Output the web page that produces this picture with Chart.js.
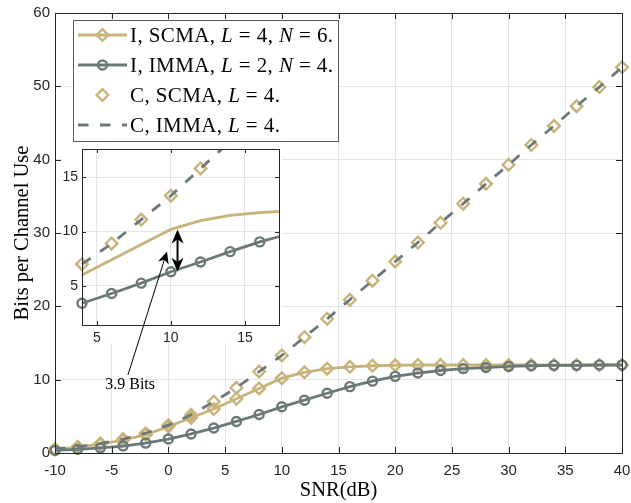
<!DOCTYPE html>
<html><head><meta charset="utf-8">
<script src="https://cdn.jsdelivr.net/npm/chart.js@4.4.1/dist/chart.umd.min.js"></script>
<style>
html,body{margin:0;padding:0;background:#fff;}
#wrap{position:relative;width:631px;height:503px;}
canvas{position:absolute;left:0;top:0;}
</style>
</head><body>
<div id="wrap"><canvas id="main" width="631" height="503"></canvas><canvas id="inset" width="631" height="503"></canvas></div>
<script>
// ---- data ----
const snr   = [-10,-8,-6,-4,-2,0,2,4,6,8,10,12,14,16,18,20,22,24,26,28,30,32,34,36,38,40];
const iScma = [0.5,0.8,1.2,1.75,2.5,3.6,4.8,6.0,7.4,8.8,10.2,11.0,11.5,11.75,11.9,11.95,12.0,12.0,12.0,12.0,12.0,12.0,12.0,12.0,12.0,12.0];
const iImma = [0.35,0.5,0.7,0.95,1.35,1.9,2.6,3.4,4.3,5.25,6.3,7.2,8.15,9.05,9.8,10.45,10.9,11.25,11.5,11.65,11.8,11.9,11.95,11.95,12.0,12.0];
const cScma = [0.55,0.85,1.3,1.9,2.7,3.8,5.2,7.0,8.9,11.1,13.3,15.8,18.3,20.9,23.5,26.1,28.7,31.4,34.0,36.7,39.3,42.0,44.6,47.3,49.9,52.6];
const cImma = [0.55,0.85,1.3,1.9,2.7,3.8,5.2,7.0,8.9,11.1,13.3,15.8,18.3,20.9,23.5,26.1,28.7,31.4,34.0,36.7,39.3,42.0,44.6,47.3,49.9,52.6];
const xTicks = [-10,-5,0,5,10,15,20,25,30,35,40];
const yTicks = [0,10,20,30,40,50,60];
const insetXTicks = [5,10,15];
const insetYTicks = [5,10,15];
const legendTexts = [
  [['I, SCMA, ',0],['L',1],[' = 4, ',0],['N',1],[' = 6.',0]],
  [['I, IMMA, ',0],['L',1],[' = 2, ',0],['N',1],[' = 4.',0]],
  [['C, SCMA, ',0],['L',1],[' = 4.',0]],
  [['C, IMMA, ',0],['L',1],[' = 4.',0]]
];
const gapLabel = '3.9 Bits';
const gapAtSnr = 10;

// ---- styles ----
const GOLD = '#C8B37B', GRAY = '#6A7877', AX = '#262626', GRID = '#e4e4e4';
const DASH = [10.5, 11.5];
const CLEAR = 'rgba(0,0,0,0)';

function pts(ys, lo, hi) {
  return snr.map((x, i) => ({x, y: ys[i]})).filter(p => lo === undefined || (p.x >= lo && p.x <= hi));
}

function drawRich(ctx, x, y, parts, size) {
  parts.forEach(([t, it]) => {
    ctx.font = (it ? 'italic ' : '') + size + 'px "Liberation Serif"';
    ctx.fillText(t, x, y);
    x += ctx.measureText(t).width;
  });
}

function diamond(ctx, x, y, r) {
  ctx.beginPath();
  ctx.moveTo(x, y - r); ctx.lineTo(x + r, y); ctx.lineTo(x, y + r); ctx.lineTo(x - r, y); ctx.closePath();
}

function arrowHead(ctx, x1, y1, x2, y2, len, half) {
  const a = Math.atan2(y2 - y1, x2 - x1);
  ctx.save();
  ctx.translate(x2, y2); ctx.rotate(a);
  ctx.beginPath();
  ctx.moveTo(0, 0); ctx.lineTo(-len, -half); ctx.lineTo(-len * 0.72, 0); ctx.lineTo(-len, half); ctx.closePath();
  ctx.fill();
  ctx.restore();
}

const framePlugin = {
  id: 'frame',
  afterDatasetsDraw(chart, args, o) {
    const {ctx, chartArea: a} = chart;
    const x = chart.scales.x, y = chart.scales.y;
    ctx.save();
    ctx.strokeStyle = o.color; ctx.lineWidth = 1;
    ctx.beginPath();
    x.ticks.forEach(t => {
      const p = Math.round(x.getPixelForValue(t.value)) + 0.5;
      ctx.moveTo(p, a.bottom); ctx.lineTo(p, a.bottom - o.len);
      ctx.moveTo(p, a.top); ctx.lineTo(p, a.top + o.len);
    });
    y.ticks.forEach(t => {
      const p = Math.round(y.getPixelForValue(t.value)) + 0.5;
      ctx.moveTo(a.left, p); ctx.lineTo(a.left + o.len, p);
      ctx.moveTo(a.right, p); ctx.lineTo(a.right - o.len, p);
    });
    ctx.stroke();
    ctx.strokeRect(Math.round(a.left) + 0.5, Math.round(a.top) + 0.5, Math.round(a.right - a.left), Math.round(a.bottom - a.top));
    ctx.restore();
  }
};

const legendPlugin = {
  id: 'mlegend',
  afterDraw(chart, args, o) {
    const ctx = chart.ctx;
    ctx.save();
    ctx.fillStyle = '#fff';
    ctx.fillRect(o.x, o.y, o.w, o.h);
    ctx.strokeStyle = '#5a5a5a'; ctx.lineWidth = 1;
    ctx.strokeRect(o.x + 0.5, o.y + 0.5, o.w, o.h);
    const ds = chart.data.datasets;
    legendTexts.forEach((parts, i) => {
      const d = ds[i];
      const cy = o.y + o.first + i * o.step;
      const x0 = o.x + 5, x1 = o.x + 54, xm = (x0 + x1) / 2;
      if (d.showLine !== false) {
        ctx.strokeStyle = d.borderColor; ctx.lineWidth = d.borderWidth;
        ctx.setLineDash(d.borderDash || []);
        ctx.beginPath(); ctx.moveTo(x0, cy); ctx.lineTo(x1, cy); ctx.stroke();
        ctx.setLineDash([]);
      }
      if (d.pointRadius > 0) {
        ctx.strokeStyle = d.pointBorderColor; ctx.lineWidth = d.pointBorderWidth;
        if (d.pointStyle === 'circle') { ctx.beginPath(); ctx.arc(xm, cy, d.pointRadius, 0, Math.PI * 2); ctx.stroke(); }
        else { diamond(ctx, xm, cy, d.pointRadius); ctx.stroke(); }
      }
      ctx.fillStyle = '#000'; ctx.textBaseline = 'alphabetic';
      ctx.letterSpacing = '0.4px';
      drawRich(ctx, o.x + 57, cy + 7, parts, 21);
    });
    ctx.restore();
  }
};

function tickSetter(arr) { return s => { s.ticks = arr.map(v => ({value: v})); }; }

const mainDatasets = [
  {label: 'I, SCMA', data: pts(iScma), borderColor: GOLD, borderWidth: 2.8, pointStyle: 'rectRot', pointRadius: 5.8, pointBorderWidth: 2.4, pointBorderColor: GOLD, pointBackgroundColor: CLEAR, order: 4, clip: false},
  {label: 'I, IMMA', data: pts(iImma), borderColor: GRAY, borderWidth: 2.8, pointStyle: 'circle', pointRadius: 4.5, pointBorderWidth: 2.4, pointBorderColor: GRAY, pointBackgroundColor: CLEAR, order: 2, clip: false},
  {label: 'C, SCMA', data: pts(cScma), showLine: false, borderColor: GOLD, borderWidth: 0, pointStyle: 'rectRot', pointRadius: 5.8, pointBorderWidth: 2.4, pointBorderColor: GOLD, pointBackgroundColor: CLEAR, order: 3, clip: false},
  {label: 'C, IMMA', data: pts(cImma), borderColor: GRAY, borderWidth: 2.8, borderDash: DASH, pointRadius: 0, order: 1, clip: false}
];

new Chart(document.getElementById('main'), {
  type: 'line',
  data: {datasets: mainDatasets},
  options: {
    responsive: false, animation: false, devicePixelRatio: 1,
    layout: {padding: {left: 10, right: 9, top: 13, bottom: 0}},
    plugins: {
      legend: {display: false}, tooltip: {enabled: false},
      frame: {color: AX, len: 6},
      mlegend: {x: 73, y: 20, w: 265, h: 121, first: 15, step: 30}
    },
    scales: {
      x: {
        type: 'linear', min: -10, max: 40,
        afterBuildTicks: tickSetter(xTicks),
        afterFit: s => { s.height = 50; s.paddingLeft = 0; s.paddingRight = 0; },
        grid: {color: GRID, drawTicks: false}, border: {display: false},
        ticks: {padding: 9, color: AX, font: {family: 'Liberation Sans', size: 15}, maxRotation: 0, autoSkip: false},
        title: {display: true, text: 'SNR(dB)', color: '#000', font: {family: 'Liberation Serif', size: 20.5}, padding: 0}
      },
      y: {
        type: 'linear', min: 0, max: 60,
        afterBuildTicks: tickSetter(yTicks),
        afterFit: s => { s.width = 45; s.paddingTop = 0; s.paddingBottom = 0; },
        grid: {color: GRID, drawTicks: false}, border: {display: false},
        ticks: {padding: 5, color: AX, font: {family: 'Liberation Sans', size: 15}, autoSkip: false},
        title: {display: true, text: 'Bits per Channel Use', color: '#000', font: {family: 'Liberation Serif', size: 20.5}, padding: 0}
      }
    }
  },
  plugins: [framePlugin, legendPlugin]
});

// ---- inset ----
const insetBg = {
  id: 'insetBg',
  beforeDraw(chart) {
    const {ctx, chartArea: a} = chart;
    ctx.save(); ctx.fillStyle = '#fff';
    ctx.fillRect(a.left - 20, a.top - 6, a.right - a.left + 23, a.bottom - a.top + 24);
    ctx.restore();
  }
};

const annotPlugin = {
  id: 'annot',
  afterDraw(chart, args, o) {
    const {ctx} = chart;
    const xs = chart.scales.x, ys = chart.scales.y;
    const k = snr.indexOf(gapAtSnr);
    ctx.save();
    ctx.fillStyle = '#000'; ctx.strokeStyle = '#000';
    // double arrow
    const ax = xs.getPixelForValue(o.gapX);
    const yT = ys.getPixelForValue(iScma[k]), yB = ys.getPixelForValue(iImma[k]);
    ctx.lineWidth = 2;
    ctx.beginPath(); ctx.moveTo(ax, yT + 8); ctx.lineTo(ax, yB - 8); ctx.stroke();
    arrowHead(ctx, ax, yB, ax, yT, 14, 6);
    arrowHead(ctx, ax, yT, ax, yB, 14, 6);
    // pointer arrow
    const tx = xs.getPixelForValue(o.tail.x), ty = ys.getPixelForValue(o.tail.y);
    const hx = xs.getPixelForValue(o.tip.x), hy = ys.getPixelForValue(o.tip.y);
    ctx.lineWidth = 1;
    const L = Math.hypot(hx - tx, hy - ty);
    ctx.beginPath(); ctx.moveTo(tx, ty); ctx.lineTo(hx - (hx - tx) / L * 8, hy - (hy - ty) / L * 8); ctx.stroke();
    arrowHead(ctx, tx, ty, hx, hy, 12, 5.5);
    // label
    ctx.font = '16px "Liberation Serif"'; ctx.textAlign = 'center'; ctx.textBaseline = 'middle';
    ctx.fillText(gapLabel, xs.getPixelForValue(o.label.x), ys.getPixelForValue(o.label.y));
    ctx.restore();
  }
};

const insetDatasets = [
  {data: pts(iScma, 4, 18), borderColor: GOLD, borderWidth: 2.8, pointRadius: 0, order: 4},
  {data: pts(iImma, 4, 18), borderColor: GRAY, borderWidth: 2.8, pointStyle: 'circle', pointRadius: 4.5, pointBorderWidth: 2.4, pointBorderColor: GRAY, pointBackgroundColor: CLEAR, order: 2},
  {data: pts(cScma, 4, 18), showLine: false, borderWidth: 0, pointStyle: 'rectRot', pointRadius: 5.8, pointBorderWidth: 2.4, pointBorderColor: GOLD, pointBackgroundColor: CLEAR, order: 3},
  {data: pts(cImma, 4, 18), borderColor: GRAY, borderWidth: 2.8, borderDash: DASH, pointRadius: 0, order: 1}
].map(d => Object.assign(d, {clip: {left: 10, top: 0, right: 0, bottom: 10}}));

new Chart(document.getElementById('inset'), {
  type: 'line',
  data: {datasets: insetDatasets},
  options: {
    responsive: false, animation: false, devicePixelRatio: 1,
    layout: {padding: {left: 62, right: 352, top: 149, bottom: 158}},
    plugins: {
      legend: {display: false}, tooltip: {enabled: false},
      frame: {color: AX, len: 4},
      annot: {gapX: 10.45, tail: {x: 7.1, y: -3.2}, tip: {x: 9.74, y: 8.17}, label: {x: 7.25, y: -4.1}}
    },
    scales: {
      x: {
        type: 'linear', min: 4, max: 17.3,
        afterBuildTicks: tickSetter(insetXTicks),
        afterFit: s => { s.height = 20; s.paddingLeft = 0; s.paddingRight = 0; },
        grid: {color: GRID, drawTicks: false}, border: {display: false},
        ticks: {padding: 5, color: AX, font: {family: 'Liberation Sans', size: 14}, maxRotation: 0, autoSkip: false}
      },
      y: {
        type: 'linear', min: 1.4, max: 17.6,
        afterBuildTicks: tickSetter(insetYTicks),
        afterFit: s => { s.width = 20; s.paddingTop = 0; s.paddingBottom = 0; },
        grid: {color: GRID, drawTicks: false}, border: {display: false},
        ticks: {padding: 4, color: AX, font: {family: 'Liberation Sans', size: 14}, autoSkip: false}
      }
    }
  },
  plugins: [insetBg, framePlugin, annotPlugin]
});
</script>
</body></html>
